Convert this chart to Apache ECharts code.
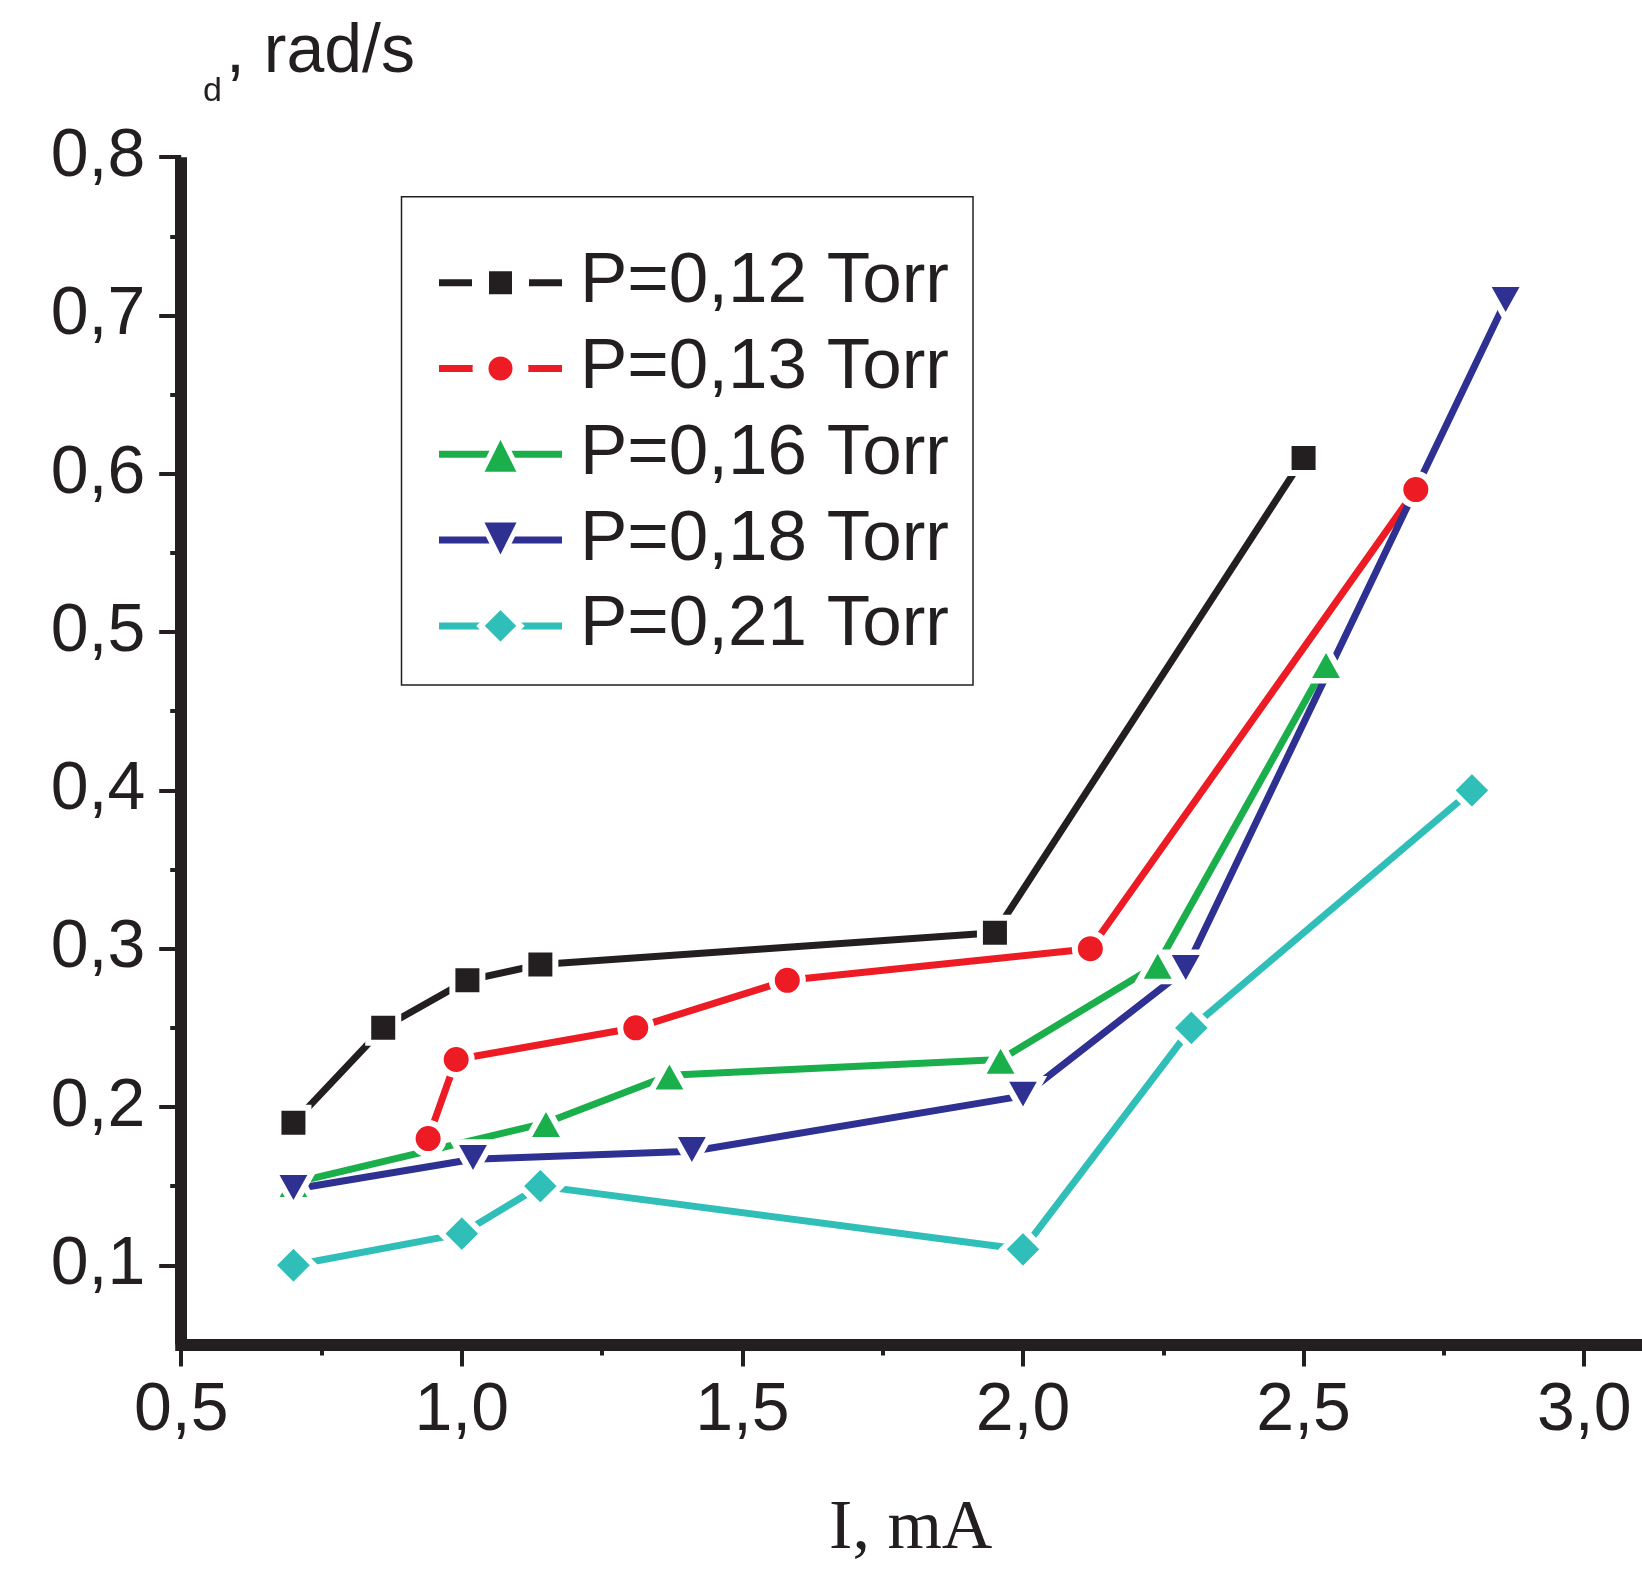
<!DOCTYPE html>
<html>
<head>
<meta charset="utf-8">
<script src="https://cdn.jsdelivr.net/npm/echarts@6/dist/echarts.min.js"></script>
<style>
  html, body { margin: 0; padding: 0; background: #fff; }
  #chart { width: 1642px; height: 1572px; }
</style>
</head>
<body>
<div id="chart"></div>
<script>
// ---- data ----
const seriesNames = ['P=0,12 Torr', 'P=0,13 Torr', 'P=0,16 Torr', 'P=0,18 Torr', 'P=0,21 Torr'];

const current012 = [0.70, 0.86, 1.01, 1.14, 1.95, 2.50];
const omega012   = [0.19, 0.25, 0.28, 0.29, 0.31, 0.61];

const current013 = [0.94, 0.99, 1.31, 1.58, 2.12, 2.70];
const omega013   = [0.18, 0.23, 0.25, 0.28, 0.30, 0.59];

const current016 = [0.70, 1.15, 1.37, 1.96, 2.24, 2.54];
const omega016   = [0.152, 0.19, 0.22, 0.23, 0.29, 0.48];

const current018 = [0.70, 1.02, 1.41, 2.00, 2.29, 2.86];
const omega018   = [0.148, 0.167, 0.172, 0.207, 0.287, 0.709];

const current021 = [0.70, 1.00, 1.14, 2.00, 2.30, 2.80];
const omega021   = [0.10, 0.12, 0.15, 0.11, 0.25, 0.40];

const xMajorTicks = [0.5, 1.0, 1.5, 2.0, 2.5, 3.0];
const xMinorTicks = [0.75, 1.25, 1.75, 2.25, 2.75];
const yMajorTicks = [0.1, 0.2, 0.3, 0.4, 0.5, 0.6, 0.7, 0.8];
const yMinorTicks = [0.15, 0.25, 0.35, 0.45, 0.55, 0.65, 0.75];

const xAxisTitle = 'I, mA';
const yTitleSub = 'd';
const yTitleMain = ', rad/s';

// ---- styling ----
const INK = '#231f20';
const colors = ['#231f20', '#ed1c24', '#1aaf4b', '#2e3192', '#30bfb8'];
const symbols = ['rect', 'circle', 'triangle', 'triangle', 'diamond'];
const rotations = [0, 0, 0, 180, 0];
const sizes = [30, 31, [38, 34], [38, 34], 41];
const legendBorders = [17, 16, 5, 5, 6];
const SANS = 'Liberation Sans, Arial, sans-serif';
const SERIF = 'Liberation Serif, Times New Roman, serif';

const xs = [current012, current013, current016, current018, current021];
const ys = [omega012, omega013, omega016, omega018, omega021];

const fmt = v => v.toFixed(1).replace('.', ',');

const series = seriesNames.map((name, i) => ({
  name,
  type: 'line',
  xAxisIndex: 0,
  yAxisIndex: 0,
  data: xs[i].map((x, k) => [x, ys[i][k]]),
  symbol: symbols[i],
  symbolRotate: rotations[i],
  symbolSize: sizes[i],
  showAllSymbol: true,
  color: colors[i],
  lineStyle: { color: colors[i], width: 7 },
  itemStyle: { color: colors[i], borderColor: '#fff', borderWidth: 6, opacity: 1 },
  emphasis: { disabled: true }
}));

const chart = echarts.init(document.getElementById('chart'), null, { renderer: 'canvas' });
chart.setOption({
  animation: false,
  backgroundColor: '#fff',
  grid: { left: 181.2, right: 1.7, top: 157.2, bottom: 227.6, containLabel: false, outerBoundsMode: 'none' },
  legend: {
    orient: 'vertical',
    left: 401.5,
    top: 196.7,
    padding: [45, 24, 18, 34],
    itemGap: 3.8,
    itemWidth: 123,
    itemHeight: 50,
    backgroundColor: '#fff',
    borderColor: INK,
    borderWidth: 1.5,
    borderRadius: 0,
    selectedMode: false,
    lineStyle: { width: 7, color: 'inherit' },
    itemStyle: { borderColor: '#fff' },
    textStyle: { fontSize: 71, fontFamily: SANS, color: INK, lineHeight: 70, padding: [0, 0, 12, 13] },
    data: seriesNames.map((n, i) => ({ name: n, itemStyle: { borderColor: '#fff', borderWidth: legendBorders[i] } }))
  },
  xAxis: [
    {
      type: 'value', min: 0.5, max: 3.1, position: 'bottom',
      name: xAxisTitle, nameLocation: 'middle', nameGap: 150,
      nameTextStyle: { fontFamily: SERIF, fontSize: 70, color: INK },
      axisLine: { show: true, onZero: false, lineStyle: { color: INK, width: 12, cap: 'square' } },
      axisTick: { show: true, inside: false, length: 22, customValues: xMajorTicks, lineStyle: { color: INK, width: 4 } },
      axisLabel: { show: true, customValues: xMajorTicks, formatter: fmt, fontSize: 68, fontFamily: SANS, color: INK, margin: 33 },
      splitLine: { show: false }
    },
    {
      type: 'value', min: 0.5, max: 3.1, position: 'bottom',
      axisLine: { show: false },
      axisTick: { show: true, inside: false, length: 11, customValues: xMinorTicks, lineStyle: { color: INK, width: 4 } },
      axisLabel: { show: false },
      splitLine: { show: false }
    }
  ],
  yAxis: [
    {
      type: 'value', min: 0.05, max: 0.8, position: 'left',
      axisLine: { show: true, onZero: false, lineStyle: { color: INK, width: 12, cap: 'butt' } },
      axisTick: { show: true, inside: false, length: 22, customValues: yMajorTicks, lineStyle: { color: INK, width: 4 } },
      axisLabel: { show: true, customValues: yMajorTicks, formatter: fmt, fontSize: 68, fontFamily: SANS, color: INK, margin: 36, padding: [0, 0, 10, 0] },
      splitLine: { show: false }
    },
    {
      type: 'value', min: 0.05, max: 0.8, position: 'left',
      axisLine: { show: false },
      axisTick: { show: true, inside: false, length: 11, customValues: yMinorTicks, lineStyle: { color: INK, width: 4 } },
      axisLabel: { show: false },
      splitLine: { show: false }
    }
  ],
  graphic: [
    { type: 'text', x: 203, y: 92, style: { text: yTitleSub, fontSize: 34, fontFamily: SANS, fill: INK, verticalAlign: 'middle', align: 'left' } },
    { type: 'text', x: 226, y: 53.5, style: { text: yTitleMain, fontSize: 68, fontFamily: SANS, fill: INK, verticalAlign: 'middle', align: 'left' } }
  ],
  series
});
</script>
</body>
</html>
